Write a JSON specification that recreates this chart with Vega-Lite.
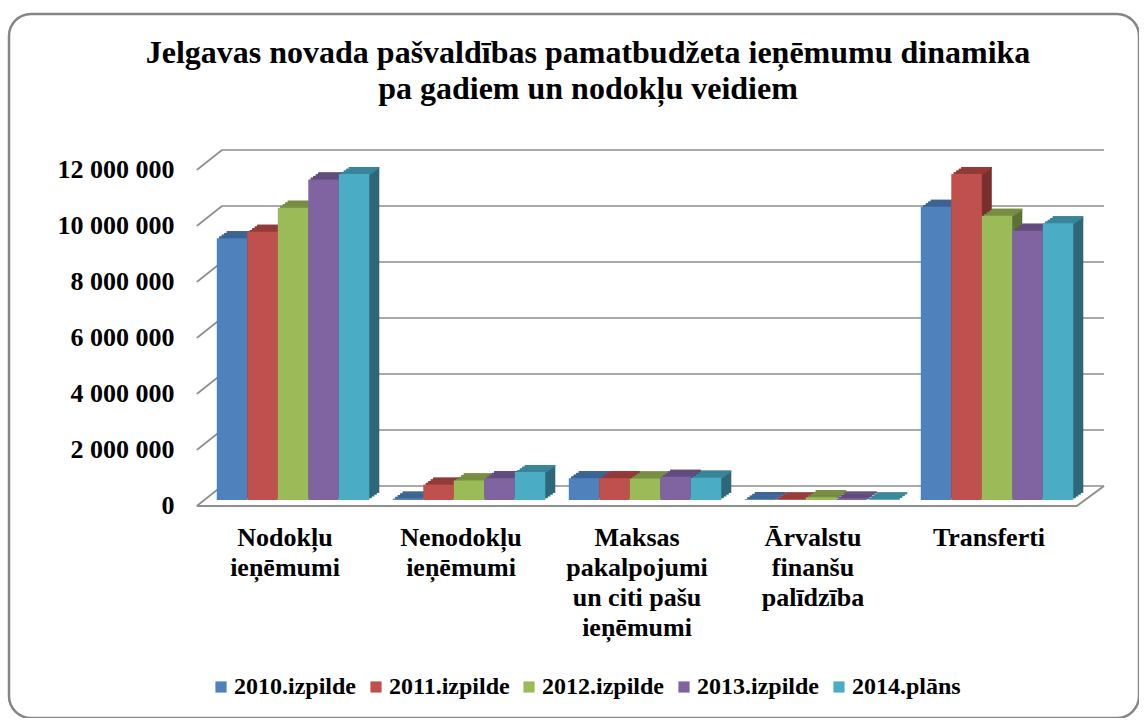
{"$schema":"https://vega.github.io/schema/vega-lite/v6.json","width":1130,"height":704,"autosize":"none","padding":{"left":9,"top":14,"right":0,"bottom":0},"background":"#ffffff","config":{"view":{"stroke":"#868686","strokeWidth":2.5,"cornerRadius":22,"fill":"#ffffff"}},"title":{"text":["Jelgavas novada pašvaldības pamatbudžeta ieņēmumu dinamika","pa gadiem un nodokļu veidiem"],"font":"Liberation Serif","fontSize":32,"fontWeight":"bold","color":"#000000","lineHeight":36,"anchor":"middle","frame":"group","dx":14,"dy":92,"offset":0},"datasets":{"rows":[{"kategorija":"Nodokļu ieņēmumi","gads":"2010.izpilde","vertiba":9350000},{"kategorija":"Nodokļu ieņēmumi","gads":"2011.izpilde","vertiba":9580000},{"kategorija":"Nodokļu ieņēmumi","gads":"2012.izpilde","vertiba":10440000},{"kategorija":"Nodokļu ieņēmumi","gads":"2013.izpilde","vertiba":11450000},{"kategorija":"Nodokļu ieņēmumi","gads":"2014.plāns","vertiba":11640000},{"kategorija":"Nenodokļu ieņēmumi","gads":"2010.izpilde","vertiba":50000},{"kategorija":"Nenodokļu ieņēmumi","gads":"2011.izpilde","vertiba":550000},{"kategorija":"Nenodokļu ieņēmumi","gads":"2012.izpilde","vertiba":700000},{"kategorija":"Nenodokļu ieņēmumi","gads":"2013.izpilde","vertiba":780000},{"kategorija":"Nenodokļu ieņēmumi","gads":"2014.plāns","vertiba":1000000},{"kategorija":"Maksas pakalpojumi un citi pašu ieņēmumi","gads":"2010.izpilde","vertiba":780000},{"kategorija":"Maksas pakalpojumi un citi pašu ieņēmumi","gads":"2011.izpilde","vertiba":780000},{"kategorija":"Maksas pakalpojumi un citi pašu ieņēmumi","gads":"2012.izpilde","vertiba":770000},{"kategorija":"Maksas pakalpojumi un citi pašu ieņēmumi","gads":"2013.izpilde","vertiba":830000},{"kategorija":"Maksas pakalpojumi un citi pašu ieņēmumi","gads":"2014.plāns","vertiba":800000},{"kategorija":"Ārvalstu finanšu palīdzība","gads":"2010.izpilde","vertiba":30000},{"kategorija":"Ārvalstu finanšu palīdzība","gads":"2011.izpilde","vertiba":20000},{"kategorija":"Ārvalstu finanšu palīdzība","gads":"2012.izpilde","vertiba":100000},{"kategorija":"Ārvalstu finanšu palīdzība","gads":"2013.izpilde","vertiba":50000},{"kategorija":"Ārvalstu finanšu palīdzība","gads":"2014.plāns","vertiba":20000},{"kategorija":"Transferti","gads":"2010.izpilde","vertiba":10470000},{"kategorija":"Transferti","gads":"2011.izpilde","vertiba":11640000},{"kategorija":"Transferti","gads":"2012.izpilde","vertiba":10150000},{"kategorija":"Transferti","gads":"2013.izpilde","vertiba":9620000},{"kategorija":"Transferti","gads":"2014.plāns","vertiba":9880000}],"levels":[{"v":0},{"v":2000000},{"v":4000000},{"v":6000000},{"v":8000000},{"v":10000000},{"v":12000000}]},"data":{"name":"rows"},"layer":[{"data":{"name":"levels"},"mark":{"type":"rule","color":"#8E8E8E","strokeWidth":1.6,"xOffset":13,"yOffset":-20,"y2Offset":-20,"x2Offset":115},"encoding":{"x":{"datum":"Nodokļu ieņēmumi","type":"nominal","bandPosition":0,"axis":{"title":null,"orient":"bottom","offset":-194,"domain":false,"ticks":false,"labelFont":"Liberation Serif","labelFontSize":26,"labelFontWeight":"bold","labelColor":"#000000","labelAngle":0,"labelPadding":0,"labelLineHeight":30,"labelBaseline":"top","labelLimit":300,"labelExpr":"datum.label == 'Maksas pakalpojumi un citi pašu ieņēmumi' ? ['Maksas','pakalpojumi','un citi pašu','ieņēmumi'] : split(datum.label,' ')"},"scale":{"domain":["Nodokļu ieņēmumi","Nenodokļu ieņēmumi","Maksas pakalpojumi un citi pašu ieņēmumi","Ārvalstu finanšu palīdzība","Transferti"],"range":[188,1068],"paddingInner":0.134,"paddingOuter":0.067}},"x2":{"datum":"Transferti"},"y":{"field":"v","type":"quantitative","scale":{"domain":[0,12000000],"range":[492,156],"nice":false},"axis":{"title":null,"orient":"left","offset":-165,"domain":false,"ticks":false,"grid":false,"values":[0,2000000,4000000,6000000,8000000,10000000,12000000],"labelExpr":"replace(format(datum.value,',d'),/,/g,' ')","labelFont":"Liberation Serif","labelFontSize":26,"labelFontWeight":"bold","labelColor":"#000000","labelPadding":0,"labelOffset":-1}}}},{"data":{"name":"levels"},"mark":{"type":"rule","color":"#8E8E8E","strokeWidth":1.6,"xOffset":-12,"x2Offset":-63,"y2Offset":-20},"encoding":{"x":{"datum":"Nodokļu ieņēmumi","type":"nominal","bandPosition":0},"x2":{"datum":"Nodokļu ieņēmumi"},"y":{"field":"v","type":"quantitative"},"y2":{"field":"v"}}},{"data":{"name":"levels"},"transform":[{"filter":"datum.v == 0"}],"mark":{"type":"rule","color":"#8E8E8E","strokeWidth":2,"xOffset":-12,"x2Offset":88},"encoding":{"x":{"datum":"Nodokļu ieņēmumi","type":"nominal","bandPosition":0},"x2":{"datum":"Transferti"},"y":{"field":"v","type":"quantitative"}}},{"data":{"name":"levels"},"transform":[{"filter":"datum.v == 0"}],"mark":{"type":"rule","color":"#8E8E8E","strokeWidth":2,"xOffset":164,"x2Offset":115,"y2Offset":-20},"encoding":{"x":{"datum":"Transferti","type":"nominal","bandPosition":0},"x2":{"datum":"Transferti"},"y":{"field":"v","type":"quantitative"},"y2":{"field":"v"}}},{"mark":{"type":"bar","yOffset":-13,"y2Offset":-13},"encoding":{"x":{"field":"kategorija","type":"nominal"},"xOffset":{"field":"gads","sort":null,"scale":{"range":[18,170.5]}},"y":{"field":"vertiba","type":"quantitative"},"y2":{"datum":0},"color":{"field":"gads","sort":null,"legend":null,"scale":{"range":["#2F4D71","#7A2F2D","#5E7135","#4D3C62","#2D6779"]}}}},{"mark":{"type":"bar","yOffset":-11.25,"y2Offset":-11.25},"encoding":{"x":{"field":"kategorija","type":"nominal"},"xOffset":{"field":"gads","sort":null,"scale":{"range":[15.5,168]}},"y":{"field":"vertiba","type":"quantitative"},"y2":{"datum":0},"color":{"field":"gads","sort":null,"legend":null,"scale":{"range":["#2F4D71","#7A2F2D","#5E7135","#4D3C62","#2D6779"]}}}},{"mark":{"type":"bar","yOffset":-9.5,"y2Offset":-9.5},"encoding":{"x":{"field":"kategorija","type":"nominal"},"xOffset":{"field":"gads","sort":null,"scale":{"range":[13,165.5]}},"y":{"field":"vertiba","type":"quantitative"},"y2":{"datum":0},"color":{"field":"gads","sort":null,"legend":null,"scale":{"range":["#2F4D71","#7A2F2D","#5E7135","#4D3C62","#2D6779"]}}}},{"mark":{"type":"bar","yOffset":-7.75,"y2Offset":-7.75},"encoding":{"x":{"field":"kategorija","type":"nominal"},"xOffset":{"field":"gads","sort":null,"scale":{"range":[10.5,163]}},"y":{"field":"vertiba","type":"quantitative"},"y2":{"datum":0},"color":{"field":"gads","sort":null,"legend":null,"scale":{"range":["#2F4D71","#7A2F2D","#5E7135","#4D3C62","#2D6779"]}}}},{"mark":{"type":"bar","yOffset":-13,"y2Offset":-11},"encoding":{"x":{"field":"kategorija","type":"nominal"},"xOffset":{"field":"gads","sort":null,"scale":{"range":[18,170.5]}},"y":{"field":"vertiba","type":"quantitative"},"y2":{"field":"vertiba"},"color":{"field":"gads","sort":null,"legend":null,"scale":{"range":["#3C6595","#943B39","#788F44","#634C7E","#3A869A"]}}}},{"mark":{"type":"bar","yOffset":-11.25,"y2Offset":-9.25},"encoding":{"x":{"field":"kategorija","type":"nominal"},"xOffset":{"field":"gads","sort":null,"scale":{"range":[15.5,168]}},"y":{"field":"vertiba","type":"quantitative"},"y2":{"field":"vertiba"},"color":{"field":"gads","sort":null,"legend":null,"scale":{"range":["#3C6595","#943B39","#788F44","#634C7E","#3A869A"]}}}},{"mark":{"type":"bar","yOffset":-9.5,"y2Offset":-7.5},"encoding":{"x":{"field":"kategorija","type":"nominal"},"xOffset":{"field":"gads","sort":null,"scale":{"range":[13,165.5]}},"y":{"field":"vertiba","type":"quantitative"},"y2":{"field":"vertiba"},"color":{"field":"gads","sort":null,"legend":null,"scale":{"range":["#3C6595","#943B39","#788F44","#634C7E","#3A869A"]}}}},{"mark":{"type":"bar","yOffset":-7.75,"y2Offset":-5.75},"encoding":{"x":{"field":"kategorija","type":"nominal"},"xOffset":{"field":"gads","sort":null,"scale":{"range":[10.5,163]}},"y":{"field":"vertiba","type":"quantitative"},"y2":{"field":"vertiba"},"color":{"field":"gads","sort":null,"legend":null,"scale":{"range":["#3C6595","#943B39","#788F44","#634C7E","#3A869A"]}}}},{"mark":{"type":"bar","yOffset":-6,"y2Offset":-6},"encoding":{"x":{"field":"kategorija","type":"nominal"},"xOffset":{"field":"gads","sort":null,"scale":{"range":[8,160.5]}},"y":{"field":"vertiba","type":"quantitative"},"y2":{"datum":0},"color":{"field":"gads","sort":null,"scale":{"range":["#4F81BD","#C0504D","#9BBB59","#8064A2","#4BACC6"]},"legend":{"title":null,"orient":"none","legendX":200,"legendY":661,"direction":"horizontal","columns":5,"symbolType":"square","symbolSize":125,"symbolStrokeWidth":0,"labelFont":"Liberation Serif","labelFontSize":24,"labelFontWeight":"bold","labelColor":"#000000","columnPadding":7,"labelOffset":1}}}}],"resolve":{"scale":{"color":"independent","xOffset":"independent"}}}
